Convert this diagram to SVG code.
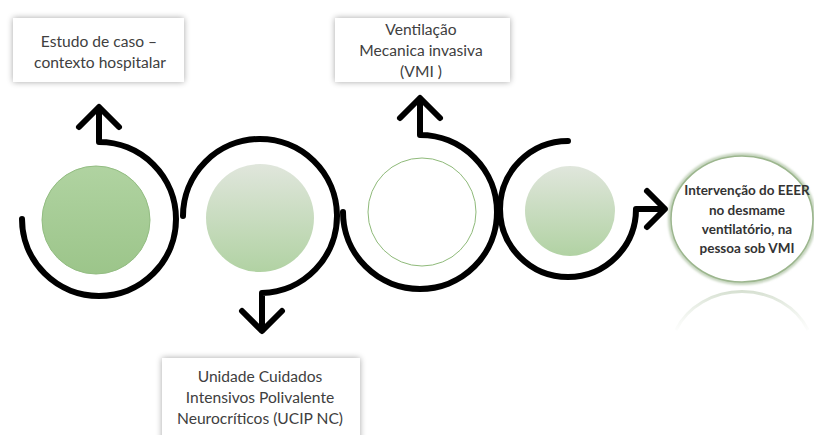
<svg xmlns="http://www.w3.org/2000/svg" width="814" height="435" viewBox="0 0 814 435">
<defs>
  <linearGradient id="g1" x1="0" y1="0" x2="0" y2="1">
    <stop offset="0" stop-color="#b0d3a1"/>
    <stop offset="1" stop-color="#9cc58a"/>
  </linearGradient>
  <linearGradient id="g2" x1="0" y1="0" x2="0" y2="1">
    <stop offset="0" stop-color="#e0e6dc"/>
    <stop offset="1" stop-color="#b1d2a3"/>
  </linearGradient>
  <linearGradient id="refl" gradientUnits="userSpaceOnUse" x1="0" y1="285" x2="0" y2="335">
    <stop offset="0" stop-color="#c9d6c2" stop-opacity="0.9"/>
    <stop offset="1" stop-color="#e6ece3" stop-opacity="0"/>
  </linearGradient>
  <filter id="shadow" x="-20%" y="-30%" width="140%" height="160%">
    <feGaussianBlur in="SourceAlpha" stdDeviation="3"/>
    <feComponentTransfer><feFuncA type="linear" slope="0.35"/></feComponentTransfer>
    <feMerge><feMergeNode/><feMergeNode in="SourceGraphic"/></feMerge>
  </filter>
  <filter id="glow" x="-20%" y="-20%" width="140%" height="140%">
    <feGaussianBlur in="SourceGraphic" stdDeviation="1.2"/>
  </filter>
</defs>
<style>
  .box { fill: #ffffff; filter: url(#shadow); }
  .lbl { font-family: Lato, "Liberation Sans", sans-serif; font-size: 15.6px; fill: #404040; text-anchor: middle; }
  .bold { font-family: Lato, "Liberation Sans", sans-serif; font-size: 13.5px; font-weight: bold; fill: #333333; text-anchor: middle; }
  .arc { fill: none; stroke: #000000; stroke-width: 6; stroke-linecap: round; stroke-linejoin: round; }
</style>
<rect width="814" height="435" fill="#ffffff"/>

<g id="circle1"><circle cx="96" cy="220" r="54" fill="url(#g1)" stroke="#93bd82" stroke-width="1"/></g>
<g id="circle2"><circle cx="260" cy="218" r="54" fill="url(#g2)"/></g>
<g id="circle3"><circle cx="422" cy="212" r="54" fill="#ffffff" stroke="#8fba7a" stroke-width="1"/></g>
<g id="circle4"><circle cx="570" cy="211" r="45" fill="url(#g2)"/></g>

<g id="connectors">
  <path class="arc" d="M22,219 A77,77 0 1 0 99,142 L99,108"/>
  <path class="arc" d="M79,127 L99,107 L119,127"/>
  <path class="arc" d="M183,216 A77,77 0 1 1 262,293 L262,330"/>
  <path class="arc" d="M242,311 L262,331 L282,311"/>
  <path class="arc" d="M343,212 A77,77 0 1 0 420,135 L420,99"/>
  <path class="arc" d="M400,118 L420,98 L440,118"/>
  <path class="arc" d="M568,141 A68,68 0 1 0 636,209 L664,209"/>
  <path class="arc" d="M647,191 L665,209 L647,227"/>
</g>

<g id="box1">
  <rect class="box" x="13" y="18" width="171" height="64"/>
  <text class="lbl" x="99" y="47">Estudo de caso  –</text>
  <text class="lbl" x="100" y="68">contexto hospitalar</text>
</g>
<g id="box2">
  <rect class="box" x="335" y="18" width="175" height="64"/>
  <text class="lbl" x="421" y="35">Ventilação</text>
  <text class="lbl" x="421" y="56">Mecanica invasiva</text>
  <text class="lbl" x="421" y="77">(VMI )</text>
</g>
<g id="box3">
  <rect class="box" x="162" y="358" width="198" height="90"/>
  <text class="lbl" x="260" y="382">Unidade Cuidados</text>
  <text class="lbl" x="260" y="403">Intensivos Polivalente</text>
  <text class="lbl" x="260" y="424">Neurocríticos (UCIP NC)</text>
</g>

<g id="final">
  <ellipse cx="742" cy="219" rx="72" ry="64" fill="none" stroke="#c5d4bd" stroke-width="4" filter="url(#glow)"/>
  <ellipse cx="742" cy="219" rx="71" ry="63" fill="#ffffff" stroke="#9cb68e" stroke-width="1.6"/>
  <path d="M676,330 A72,64 0 0 1 808,330" fill="none" stroke="url(#refl)" stroke-width="3"/>
  <text class="bold" x="747" y="195">Intervenção do EEER</text>
  <text class="bold" x="747" y="215">no desmame</text>
  <text class="bold" x="747" y="234">ventilatório, na</text>
  <text class="bold" x="747" y="253">pessoa sob VMI</text>
</g>
</svg>
